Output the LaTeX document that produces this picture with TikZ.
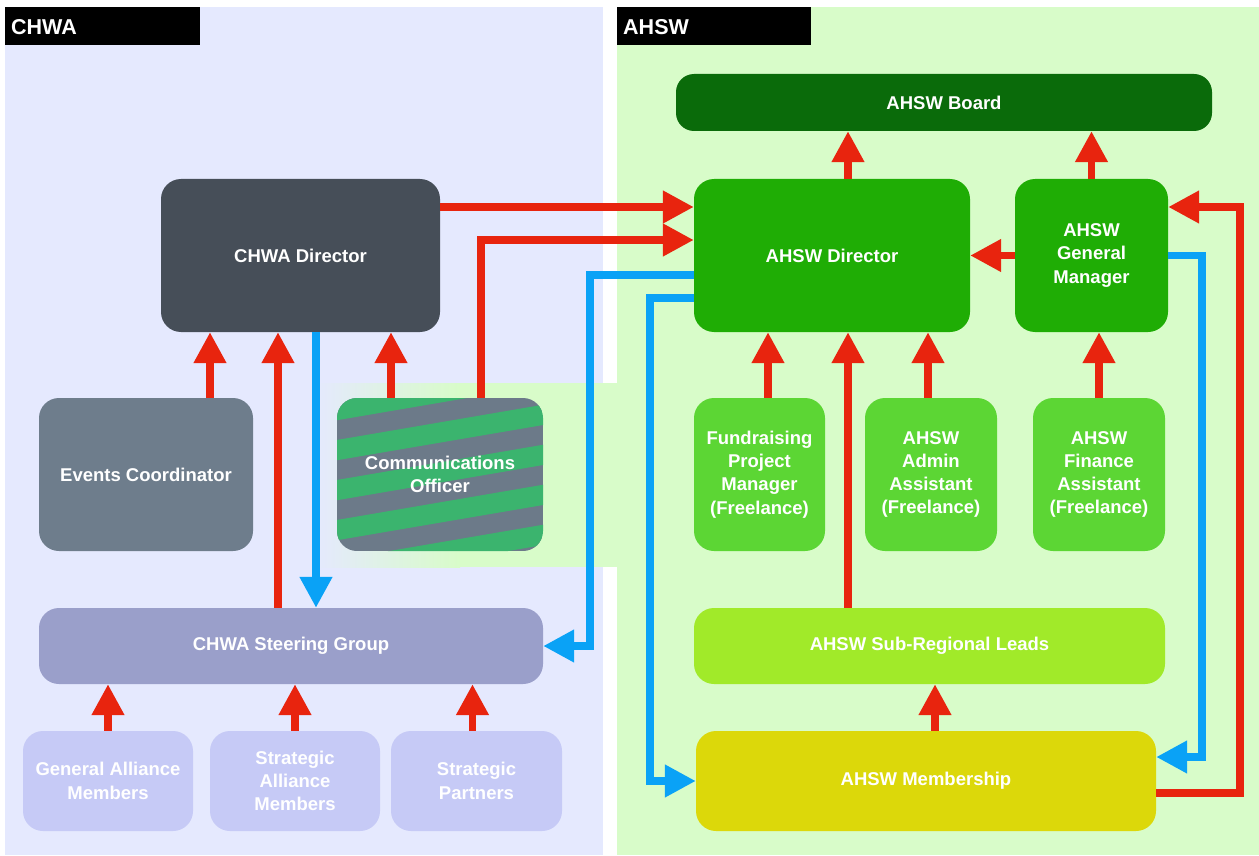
\documentclass[tikz,border=0pt]{standalone}
\usepackage{fontspec}
\setmainfont{Liberation Sans}
\usetikzlibrary{arrows.meta}
\definecolor{chwabg}{HTML}{E5E9FE}
\definecolor{ahswbg}{HTML}{D8FCC9}
\definecolor{boardc}{HTML}{0A6B0A}
\definecolor{chdc}{HTML}{464E58}
\definecolor{ahdc}{HTML}{1FAD05}
\definecolor{evc}{HTML}{6E7D8C}
\definecolor{stgray}{HTML}{6C7A89}
\definecolor{stgreen}{HTML}{3BB46E}
\definecolor{freec}{HTML}{5CD634}
\definecolor{sgc}{HTML}{9A9FCA}
\definecolor{srlc}{HTML}{A1EA29}
\definecolor{allc}{HTML}{C6CAF6}
\definecolor{memc}{HTML}{DCD80A}
\definecolor{myred}{HTML}{E8240E}
\definecolor{myblue}{HTML}{0AA2F6}
\tikzset{
  box/.style={rounded corners=20pt, inner sep=0pt, text=white, align=center,
    font=\fontsize{18.5}{23.3}\selectfont\bfseries},
  redarr/.style={draw=myred, line width=7.5pt, -{Triangle[length=31pt,width=31pt]}},
  bluearr/.style={draw=myblue, line width=7.5pt, -{Triangle[length=31pt,width=31pt]}},
  tag/.style={fill=black, text=white, inner sep=0pt, font=\fontsize{21.5}{24}\selectfont\bfseries},
}
\begin{document}
\begin{tikzpicture}[x=1pt,y=-1pt]
\useasboundingbox[fill=white] (0,0) rectangle (1259,856);
% panels
\fill[chwabg] (5,7) rectangle (603,855);
\fill[ahswbg] (617,7) rectangle (1259,855);
\shade[left color=chwabg, right color=ahswbg, shading angle=90] (315,383) rectangle (460,567);
\fill[ahswbg] (459,383) rectangle (617,567);
\fill[black] (5,7) rectangle (200,45);
\fill[black] (617,7) rectangle (811,45);
\node[tag, anchor=west] (tchwa) at (11,27) {CHWA};
\node[tag, anchor=west] (tahsw) at (623,27) {AHSW};
% column / row helpers
\coordinate (x210) at (210,0);
\coordinate (x278) at (278,0);
\coordinate (x316) at (316,0);
\coordinate (x391) at (391,0);
\coordinate (x481) at (481,0);
\coordinate (x590) at (590,0);
\coordinate (x650) at (650,0);
\coordinate (x768) at (768,0);
\coordinate (x848) at (848,0);
\coordinate (x928) at (928,0);
\coordinate (x935) at (935,0);
\coordinate (x1202) at (1202,0);
\coordinate (x1240) at (1240,0);
\coordinate (r207) at (0,207);
\coordinate (r240) at (0,240);
\coordinate (r275) at (0,275);
\coordinate (r298) at (0,298);
\coordinate (r757) at (0,757);
\coordinate (r793) at (0,793);
% nodes
\node[box, fill=boardc, rounded corners=18pt, minimum width=536pt, minimum height=57pt] (board) at (944,102.5) {AHSW Board};
\node[box, fill=chdc, minimum width=279pt, minimum height=153pt] (chd) at (300.5,255.5) {CHWA Director};
\node[box, fill=ahdc, minimum width=276pt, minimum height=153pt] (ahd) at (832,255.5) {AHSW Director};
\node[box, fill=ahdc, minimum width=153pt, minimum height=153pt] (gm) at (1091.5,255.5) {AHSW\\General\\Manager};
\node[box, fill=evc, minimum width=214pt, minimum height=153pt] (ev) at (146,474.5) {Events Coordinator};
% striped communications officer
\begin{scope}
\clip[rounded corners=20pt] (337,398) rectangle (543,551);
\fill[stgray] (337,398) rectangle (543,551);
\foreach \k in {-2,...,6}
  \draw[stgreen, line width=20pt] (320,413+40*\k) -- (560,372+40*\k);
\end{scope}
\node[box, minimum width=206pt, minimum height=153pt] (co) at (440,474.5) {Communications\\Officer};
\node[box, fill=freec, minimum width=131pt, minimum height=153pt] (fr) at (759.5,474.5) {Fundraising\\Project\\Manager\\(Freelance)};
\node[box, fill=freec, minimum width=132pt, minimum height=153pt] (ad) at (931,474.5) {AHSW\\Admin\\Assistant\\(Freelance)};
\node[box, fill=freec, minimum width=132pt, minimum height=153pt] (fi) at (1099,474.5) {AHSW\\Finance\\Assistant\\(Freelance)};
\node[box, fill=sgc, minimum width=504pt, minimum height=76pt] (sg) at (291,646) {CHWA Steering Group};
\node[box, fill=srlc, minimum width=471pt, minimum height=76pt] (srl) at (929.5,646) {AHSW Sub-Regional Leads};
\node[box, fill=allc, minimum width=170pt, minimum height=100pt] (gam) at (108,781) {General Alliance\\Members};
\node[box, fill=allc, minimum width=170pt, minimum height=100pt] (sam) at (295,781) {Strategic\\Alliance\\Members};
\node[box, fill=allc, minimum width=171pt, minimum height=100pt] (sp) at (476.5,781) {Strategic\\Partners};
\node[box, fill=memc, minimum width=460pt, minimum height=100pt] (mem) at (926,781) {AHSW Membership};
% CHWA connectors
\draw[redarr] (ev.north -| x210) -- (chd.south -| x210);
\draw[redarr] (sg.north -| x278) -- (chd.south -| x278);
\draw[redarr] (co.north -| x391) -- (chd.south -| x391);
\draw[bluearr] (chd.south -| x316) -- (sg.north -| x316);
\draw[redarr] (gam.north) -- (gam.north |- sg.south);
\draw[redarr] (sam.north) -- (sam.north |- sg.south);
\draw[redarr] (sp.north) ++(-4,0) coordinate (sptop) -- (sptop |- sg.south);
% cross connectors
\draw[redarr] (chd.east |- r207) -- (ahd.west |- r207);
\draw[redarr] (co.north -| x481) -- (x481 |- r240) -- (ahd.west |- r240);
\draw[bluearr] (ahd.west |- r275) -- (x590 |- r275) -- (x590 |- sg.east) -- (sg.east);
\draw[bluearr] (ahd.west |- r298) -- (x650 |- r298) -- (x650 |- mem.west) -- (mem.west);
% AHSW connectors
\draw[redarr] (ahd.north -| x848) -- (board.south -| x848);
\draw[redarr] (gm.north) -- (gm.north |- board.south);
\draw[redarr] (gm.west) -- (ahd.east);
\draw[redarr] (fr.north -| x768) -- (ahd.south -| x768);
\draw[redarr] (srl.north -| x848) -- (ahd.south -| x848);
\draw[redarr] (ad.north -| x928) -- (ahd.south -| x928);
\draw[redarr] (fi.north) -- (fi.north |- gm.south);
\draw[redarr] (mem.north -| x935) -- (srl.south -| x935);
\draw[bluearr] (gm.east) -- (x1202 |- gm.east) -- (x1202 |- r757) -- (mem.east |- r757);
\draw[redarr] (mem.east |- r793) -- (x1240 |- r793) -- (x1240 |- r207) -- (gm.east |- r207);
\end{tikzpicture}
\end{document}
